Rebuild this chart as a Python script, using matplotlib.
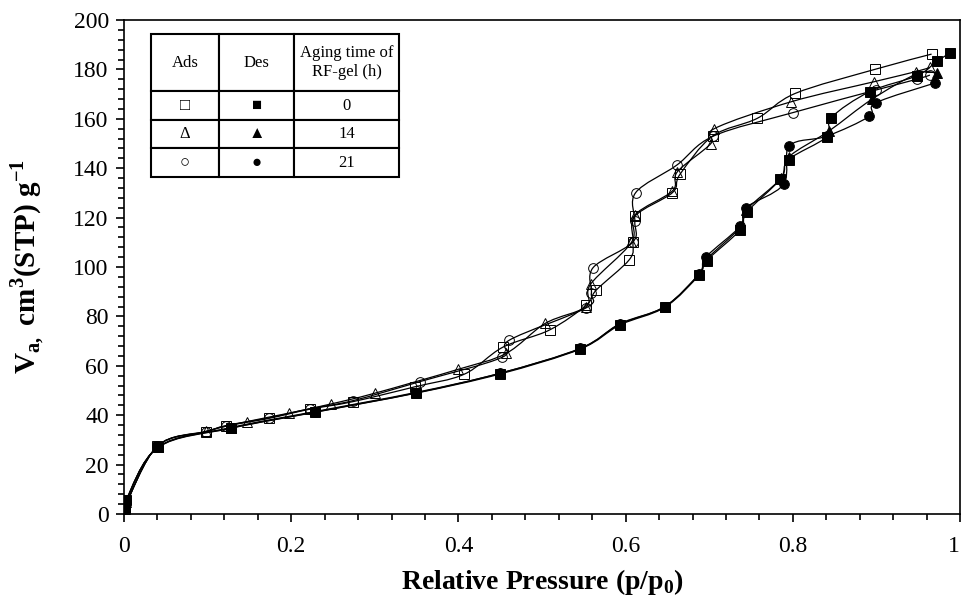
import numpy as np
import matplotlib
matplotlib.use("Agg")
import matplotlib.pyplot as plt
from matplotlib.path import Path
from matplotlib.patches import PathPatch
from matplotlib.ticker import MultipleLocator, FormatStrFormatter

plt.rcParams['font.family'] = ['Liberation Serif', 'DejaVu Sans']
plt.rcParams['mathtext.fontset'] = 'custom'
plt.rcParams['mathtext.rm'] = 'Liberation Serif'
plt.rcParams['mathtext.bf'] = 'Liberation Serif:bold'

# adsorption branches (open markers)
p_ads_0 = [0.001, 0.040, 0.098, 0.122, 0.173, 0.222, 0.274, 0.348, 0.407, 0.453, 0.509,
           0.553, 0.565, 0.6045, 0.609, 0.611, 0.656, 0.665, 0.704, 0.7575, 0.803, 0.898, 0.966]
v_ads_0 = [3.0, 27.5, 33.3, 35.6, 38.7, 42.4, 45.5, 51.5, 56.6, 67.5, 74.5,
           84.6, 90.7, 103.0, 110.0, 120.5, 130.1, 137.5, 153.0, 160.2, 170.3, 180.0, 186.2]
p_ads_14 = [0.001, 0.040, 0.098, 0.147, 0.197, 0.247, 0.300, 0.400, 0.457, 0.504,
            0.553, 0.558, 0.607, 0.611, 0.656, 0.662, 0.702, 0.706, 0.798, 0.897, 0.947, 0.964]
v_ads_14 = [3.0, 27.5, 33.5, 37.4, 40.8, 44.5, 48.9, 58.6, 65.0, 77.2,
            84.0, 93.0, 110.0, 121.0, 130.8, 138.6, 150.0, 156.0, 166.9, 175.0, 179.1, 180.8]
p_ads_21 = [0.001, 0.040, 0.098, 0.122, 0.173, 0.222, 0.274, 0.354, 0.452, 0.461,
            0.553, 0.559, 0.561, 0.6085, 0.611, 0.612, 0.661, 0.705, 0.800, 0.900, 0.948, 0.964]
v_ads_21 = [3.0, 27.5, 33.3, 35.8, 38.9, 42.6, 45.9, 53.6, 63.4, 70.4,
            83.5, 89.3, 99.7, 110.0, 118.5, 130.1, 141.2, 153.0, 162.5, 171.7, 176.0, 177.7]

# desorption branches (filled markers)
p_des_0 = [0.988, 0.973, 0.949, 0.892, 0.846, 0.841, 0.795, 0.785, 0.745, 0.737, 0.697,
           0.688, 0.647, 0.593, 0.546, 0.450, 0.349, 0.229, 0.128, 0.041, 0.002, 0.0015, 0.001, 0.0005]
v_des_0 = [186.5, 183.5, 177.5, 171.0, 160.5, 152.8, 143.5, 135.5, 122.2, 115.0, 102.6,
           96.8, 83.7, 76.5, 66.8, 56.7, 48.9, 41.2, 34.7, 27.0, 5.5, 4.0, 2.5, 1.0]
p_des_14 = [0.972, 0.949, 0.895, 0.843, 0.795, 0.786, 0.744, 0.737, 0.697,
            0.688, 0.647, 0.593, 0.546, 0.450, 0.349, 0.229, 0.128, 0.041, 0.002, 0.001]
v_des_14 = [178.5, 178.3, 168.0, 155.0, 144.5, 136.0, 123.0, 116.0, 103.2,
            97.3, 84.0, 76.8, 67.1, 57.0, 49.2, 41.5, 35.0, 27.2, 5.0, 2.0]
p_des_21 = [0.970, 0.8995, 0.8915, 0.841, 0.796, 0.789, 0.744, 0.737, 0.696,
            0.688, 0.647, 0.593, 0.546, 0.450, 0.349, 0.229, 0.128, 0.041, 0.002, 0.001]
v_des_21 = [174.5, 166.5, 161.0, 153.0, 149.0, 133.5, 124.0, 116.5, 104.0,
            97.2, 84.0, 77.0, 67.0, 57.0, 49.0, 41.3, 34.8, 27.1, 5.0, 2.0]

x_ticks = [0, 0.2, 0.4, 0.6, 0.8, 1.0]
x_ticklabels = ["0", "0.2", "0.4", "0.6", "0.8", "1"]

table_rows = [["Ads", "Des", "Aging time of\nRF-gel (h)"],
              ["\u25a1", "\u25a0", "0"],
              ["\u0394", "\u25b2", "14"],
              ["\u25cb", "\u25cf", "21"]]


def smooth_line(ax, x, y, lw):
    # Excel-style smoothed line: Catmull-Rom segments as cubic Beziers
    pts = np.column_stack([x, y]).astype(float)
    n = len(pts)
    verts = [pts[0]]
    codes = [Path.MOVETO]
    for i in range(n - 1):
        p0 = pts[i - 1] if i > 0 else pts[i]
        p1, p2 = pts[i], pts[i + 1]
        p3 = pts[i + 2] if i + 2 < n else pts[i + 1]
        verts += [p1 + (p2 - p0) / 6, p2 - (p3 - p1) / 6, p2]
        codes += [Path.CURVE4] * 3
    ax.add_patch(PathPatch(Path(verts, codes), fill=False, lw=lw, ec='black', zorder=2))


fig = plt.figure(figsize=(9.63, 6.01), dpi=100)
ax = fig.add_axes([0.1288, 0.1448, 0.8681, 0.8219])

series = [(p_ads_0, v_ads_0, 's', 'none', 6.5),
          (p_ads_14, v_ads_14, '^', 'none', 7),
          (p_ads_21, v_ads_21, 'o', 'none', 7),
          (p_des_0, v_des_0, 's', 'full', 7),
          (p_des_14, v_des_14, '^', 'full', 7.5),
          (p_des_21, v_des_21, 'o', 'full', 7)]
for x, y, m, fs, ms in series:
    smooth_line(ax, x, y, 0.9)
    ax.plot(x, y, ls='none', marker=m, ms=ms, mfc='black' if fs == 'full' else 'none',
            mec='black', mew=0.7, zorder=3)

ax.set_xlim(0, 1)
ax.set_ylim(0, 200)
ax.set_xticks(x_ticks)
ax.set_xticklabels(x_ticklabels)
ax.xaxis.set_minor_locator(MultipleLocator(0.04))
ax.yaxis.set_major_locator(MultipleLocator(20))
ax.yaxis.set_minor_locator(MultipleLocator(4))
ax.tick_params(which='both', direction='out', labelsize=17, width=1.2)
ax.tick_params(which='major', length=6)
ax.tick_params(which='minor', length=4)
ax.tick_params(axis='x', which='major', pad=10)
ax.tick_params(axis='y', which='major', pad=5)
for s in ax.spines.values():
    s.set_linewidth(1.2)
# keep the "1" at the right edge inside the figure
ax.xaxis.get_major_ticks()[-1].label1.set_horizontalalignment('right')

ax.set_xlabel(r'Relative Pressure (p/p$_\mathbf{0}$)', fontsize=20, fontweight='bold')
ax.set_ylabel(r'V$_\mathbf{a,}$ cm$^\mathbf{3}$(STP) g$^\mathbf{-1}$', fontsize=21,
              fontweight='bold')
ax.xaxis.set_label_coords(0.5, -0.107)
ax.yaxis.set_label_coords(-0.092, 0.5)

tbl = ax.table(cellText=table_rows, cellLoc='center',
               bbox=[0.0323, 0.6822, 0.297, 0.2895])
tbl.auto_set_font_size(False)
col_w = [0.0813, 0.0897, 0.1257]
row_h = [0.1154, 0.0574, 0.0574, 0.0574]
for (r, c), cell in tbl.get_celld().items():
    cell.set_width(col_w[c])
    cell.set_height(row_h[r])
    cell.set_linewidth(1.5)
    cell.get_text().set_fontsize(12)
    cell.PAD = 0.02
tbl.set_zorder(5)

fig.savefig('out.png', dpi=100)
